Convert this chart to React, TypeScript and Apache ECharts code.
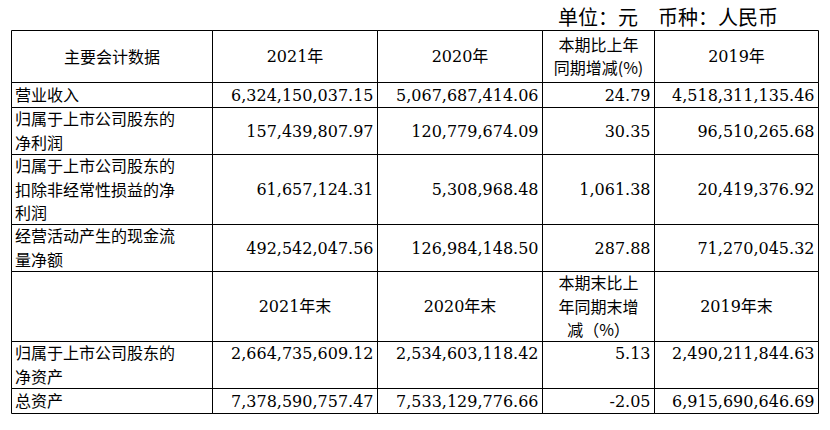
import React, { useEffect, useRef } from "react";
import * as echarts from "echarts";

// ---- data ----
const unitNote = "单位：元　币种：人民币";
const headerRow1 = ["主要会计数据", "2021年", "2020年", "本期比上年\n同期增减(%)", "2019年"];
const incomeItems = [
  "营业收入",
  "归属于上市公司股东的\n净利润",
  "归属于上市公司股东的\n扣除非经常性损益的净\n利润",
  "经营活动产生的现金流\n量净额",
];
const income2021 = [6324150037.15, 157439807.97, 61657124.31, 492542047.56];
const income2020 = [5067687414.06, 120779674.09, 5308968.48, 126984148.5];
const incomeChange = [24.79, 30.35, 1061.38, 287.88];
const income2019 = [4518311135.46, 96510265.68, 20419376.92, 71270045.32];
const headerRow2 = ["", "2021年末", "2020年末", "本期末比上\n年同期末增\n减（%）", "2019年末"];
const balanceItems = ["归属于上市公司股东的\n净资产", "总资产"];
const balance2021 = [2664735609.12, 7378590757.47];
const balance2020 = [2534603118.42, 7533129776.66];
const balanceChange = [5.13, -2.05];
const balance2019 = [2490211844.63, 6915690646.69];

// ---- layout ----
const colWidths = [201, 165, 165, 112, 164];
const rowHeights = [52, 25, 47, 70, 47, 70, 47, 25];
const totalW = colWidths.reduce((a, b) => a + b, 0);
const totalH = rowHeights.reduce((a, b) => a + b, 0);
const colEdges = colWidths.reduce((acc, w) => [...acc, acc[acc.length - 1] + w], [0] as number[]);
const rowEdges = rowHeights.reduce((acc, h) => [...acc, acc[acc.length - 1] + h], [0] as number[]);

const fmt = (v: number) =>
  v.toLocaleString("en-US", { minimumFractionDigits: 2, maximumFractionDigits: 2 });

type Row = { header: boolean; cells: string[]; lh: number; valign: "middle" | "top" };

const rows: Row[] = [
  { header: true, cells: headerRow1, lh: 23.4, valign: "middle" },
  ...incomeItems.map((it, i) => ({
    header: false,
    cells: [it, fmt(income2021[i]), fmt(income2020[i]), fmt(incomeChange[i]), fmt(income2019[i])],
    lh: 23.5,
    valign: "middle" as const,
  })),
  { header: true, cells: headerRow2, lh: 23.5, valign: "middle" },
  ...balanceItems.map((it, i) => ({
    header: false,
    cells: [it, fmt(balance2021[i]), fmt(balance2020[i]), fmt(balanceChange[i]), fmt(balance2019[i])],
    lh: 23.5,
    valign: (i === 0 ? "top" : "middle") as "top" | "middle",
  })),
];

const cellData: number[][] = [];
rows.forEach((row, r) => row.cells.forEach((_, c) => cellData.push([c, r])));

const CJK = '"Noto Sans CJK SC"';
const SERIF = '"DejaVu Serif", "Noto Sans CJK SC"';
const fontFor = (s: string) => (/\d/.test(s) ? `16px ${SERIF}` : `16px ${CJK}`);

export default function App() {
  const ref = useRef<HTMLDivElement>(null);
  useEffect(() => {
    if (!ref.current) return;
    const chart = echarts.init(ref.current, undefined, { renderer: "svg" });
    chart.setOption({
      animation: false,
      backgroundColor: "#fff",
      title: {
        text: unitNote,
        left: 558,
        top: 6,
        padding: 0,
        textStyle: { fontSize: 20, fontWeight: "normal", fontFamily: "Noto Sans CJK SC", color: "#000" },
      },
      grid: { left: 11.5, top: 30.5, width: totalW, height: totalH },
      xAxis: { type: "value", min: 0, max: totalW, show: false },
      yAxis: { type: "value", min: 0, max: totalH, inverse: true, show: false },
      series: [
        {
          type: "custom",
          coordinateSystem: "cartesian2d",
          silent: true,
          clip: false,
          data: cellData,
          renderItem: (params: any, api: any) => {
            const c = api.value(0) as number;
            const r = api.value(1) as number;
            const row = rows[r];
            const p0 = api.coord([colEdges[c], rowEdges[r]]);
            const p1 = api.coord([colEdges[c + 1], rowEdges[r + 1]]);
            const x0 = p0[0], y0 = p0[1], x1 = p1[0], y1 = p1[1];
            const cy = (y0 + y1) / 2;
            const children: any[] = [
              {
                type: "rect",
                shape: { x: x0, y: y0, width: x1 - x0, height: y1 - y0 },
                style: { fill: "none", stroke: "#000", lineWidth: 1 },
              },
            ];
            const text = row.cells[c];
            if (text) {
              const lines = text.split("\n");
              const labelLines = row.cells[0].split("\n").length;
              let startY = cy - ((lines.length - 1) * row.lh) / 2;
              if (!row.header && c > 0 && row.valign === "top") {
                startY = cy - ((labelLines - 1) * row.lh) / 2;
              }
              let x = (x0 + x1) / 2;
              let align = "center";
              if (!row.header) {
                if (c === 0) {
                  x = x0 + 3.5;
                  align = "left";
                } else {
                  x = x1 - 4;
                  align = "right";
                }
              }
              lines.forEach((ln, i) => {
                const isCjk = !/\d/.test(ln);
                children.push({
                  type: "text",
                  style: {
                    text: ln,
                    x,
                    y: startY + i * row.lh - (isCjk ? 1 : 0),
                    textAlign: align,
                    textVerticalAlign: "middle",
                    font: fontFor(ln),
                    fill: "#000",
                  },
                });
              });
            }
            return { type: "group", children };
          },
        },
      ],
    });
    return () => chart.dispose();
  }, []);
  return <div ref={ref} style={{ position: "fixed", left: 0, top: 0, width: 830, height: 430 }} />;
}
